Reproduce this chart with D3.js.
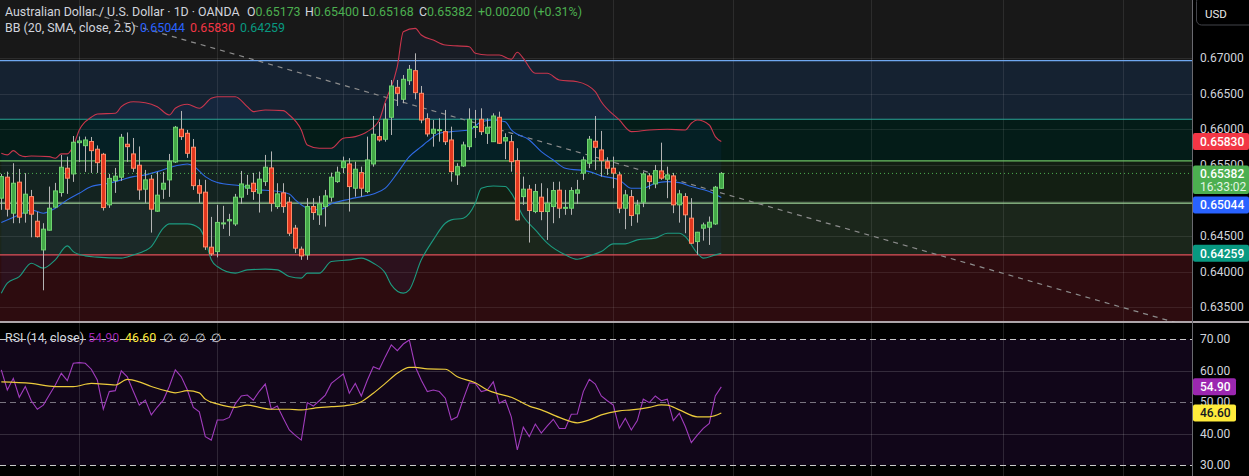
<!DOCTYPE html>
<html><head><meta charset="utf-8">
<script src="https://cdn.jsdelivr.net/npm/d3@7"></script>
<style>html,body{margin:0;padding:0;background:#000;overflow:hidden}</style>
</head><body><svg id="c" width="1249" height="476"></svg>
<script>
// ---------------- DATA ----------------
const openP = [
0.65034,0.65329,0.64823,0.65259,0.64823,0.65056,0.64710,0.64307,0.64584,0.64908,
0.65113,0.65455,0.65375,0.65814,0.65772,0.65831,0.65722,0.65651,0.64940,0.65281,
0.65329,0.65792,0.65656,0.65497,0.65160,0.65301,0.64851,0.65160,0.65291,0.65543,
0.66003,0.65946,0.65750,0.65210,0.65118,0.64345,0.64283,0.64672,0.64715,0.64672,
0.65048,0.65174,0.65244,0.65104,0.65267,0.65459,0.64916,0.65108,0.64978,0.64612,
0.64317,0.64237,0.64916,0.64800,0.64916,0.65048,0.65267,0.65463,0.65515,0.65174,
0.65393,0.65127,0.65515,0.65899,0.65862,0.66171,0.66592,0.66424,0.66685,0.66826,
0.66508,0.66151,0.65946,0.65989,0.65969,0.65852,0.65361,0.65487,0.65758,0.66028,
0.66143,0.65946,0.65828,0.66171,0.65838,0.65828,0.65561,0.65056,0.65160,0.64846,
0.65048,0.64846,0.64916,0.65146,0.64891,0.64893,0.65104,0.65385,0.65525,0.65834,
0.65712,0.65547,0.65455,0.65361,0.64893,0.65056,0.64814,0.64978,0.65347,0.65234,
0.65417,0.65301,0.65347,0.64940,0.65056,0.64753,0.64424,0.64612,0.64626,0.64672,
0.65173];
const highP = [
0.65375,0.65407,0.65525,0.65445,0.65385,0.65150,0.64842,0.64682,0.65197,0.65249,
0.65642,0.65618,0.65908,0.65901,0.65899,0.65894,0.65775,0.65670,0.65375,0.65459,
0.65937,0.65958,0.65880,0.65761,0.65431,0.65361,0.65403,0.65403,0.65656,0.66049,
0.66260,0.65993,0.65866,0.65298,0.65291,0.64771,0.64940,0.64926,0.64814,0.65094,
0.65417,0.65361,0.65389,0.65407,0.65642,0.65691,0.65244,0.65244,0.65052,0.64658,
0.64354,0.65034,0.65034,0.65066,0.65150,0.65393,0.65477,0.65618,0.65596,0.65547,
0.65477,0.65899,0.66189,0.66105,0.66368,0.66695,0.66695,0.66765,0.66906,0.67070,
0.66611,0.66227,0.66133,0.66157,0.66274,0.66039,0.65525,0.65828,0.66297,0.66274,
0.66297,0.66157,0.66227,0.66250,0.65946,0.65922,0.65736,0.65337,0.65220,0.65234,
0.65244,0.65174,0.65263,0.65267,0.65150,0.65188,0.65291,0.65618,0.65908,0.66189,
0.65979,0.65610,0.65618,0.65407,0.65150,0.65150,0.65010,0.65407,0.65385,0.65501,
0.65814,0.65477,0.65389,0.65150,0.65104,0.65034,0.64560,0.64690,0.64776,0.65206,
0.65400];
const lowP = [
0.64870,0.64776,0.64682,0.64682,0.64690,0.64484,0.64481,0.63739,0.64579,0.64898,
0.65056,0.65094,0.65263,0.65543,0.65403,0.65389,0.65389,0.64860,0.64898,0.65108,
0.65277,0.65543,0.65403,0.65010,0.64968,0.64550,0.64842,0.65024,0.65052,0.65529,
0.65852,0.65600,0.65150,0.64968,0.64307,0.64223,0.64202,0.64602,0.64503,0.64644,
0.64954,0.65080,0.65010,0.64832,0.65206,0.64846,0.64884,0.64828,0.64503,0.64265,
0.64167,0.64167,0.64729,0.64658,0.64634,0.64986,0.65249,0.65385,0.64846,0.65056,
0.65056,0.65104,0.65477,0.65828,0.65828,0.65922,0.66330,0.66368,0.66625,0.66424,
0.66087,0.65899,0.65758,0.65828,0.65782,0.65267,0.65220,0.65473,0.65712,0.65880,
0.65922,0.65796,0.65824,0.65796,0.65582,0.65407,0.64719,0.64940,0.64410,0.64823,
0.64724,0.64447,0.64682,0.64753,0.64800,0.64800,0.64954,0.65291,0.65455,0.65431,
0.65337,0.65361,0.65174,0.64823,0.64598,0.64644,0.64690,0.64908,0.65160,0.65174,
0.65291,0.65034,0.64823,0.64690,0.64541,0.64391,0.64237,0.64437,0.64377,0.64658,
0.65168];
const closeP = [
0.65337,0.64879,0.65244,0.64767,0.65090,0.64809,0.64493,0.64598,0.64893,0.65136,
0.65469,0.65315,0.65820,0.65838,0.65852,0.65702,0.65533,0.64902,0.65312,0.65343,
0.65890,0.65758,0.65455,0.65150,0.65291,0.64879,0.65076,0.65244,0.65553,0.66031,
0.65899,0.65665,0.65210,0.65104,0.64349,0.64251,0.64693,0.64686,0.64733,0.65048,
0.65234,0.65216,0.65127,0.65301,0.65469,0.64963,0.65094,0.64916,0.64541,0.64331,
0.64223,0.64916,0.64832,0.64954,0.65066,0.65329,0.65399,0.65547,0.65197,0.65441,
0.65174,0.65571,0.65932,0.65852,0.66143,0.66611,0.66508,0.66705,0.66845,0.66517,
0.66133,0.65937,0.66003,0.65997,0.65828,0.65407,0.65477,0.65782,0.66143,0.66042,
0.65969,0.66031,0.66189,0.65806,0.65885,0.65547,0.64729,0.65160,0.64860,0.65127,
0.64846,0.64963,0.65141,0.64893,0.64905,0.65141,0.65150,0.65571,0.65862,0.65750,
0.65561,0.65455,0.65385,0.64893,0.65080,0.64790,0.64940,0.65375,0.65267,0.65421,
0.65315,0.65361,0.64940,0.65094,0.64800,0.64401,0.64555,0.64658,0.64696,0.65188,
0.65382];

// Bollinger Bands: [bar index, price]
const bbUpper = [[0,0.65665],[1,0.65642],[2,0.65702],[3,0.65642],[4,0.65618],[5,0.65627],[8,0.65618],[9,0.65596],[10,0.65656],[11,0.65656],[12,0.65768],[13,0.65993],[15,0.66171],[16,0.66217],[19,0.66227],[20,0.66320],[22,0.66390],[24,0.66376],[26,0.66320],[28,0.66203],[29,0.66297],[31,0.66354],[33,0.66297],[35,0.66438],[36,0.66460],[39,0.66460],[41,0.66320],[42,0.66250],[44,0.66274],[47,0.66264],[48,0.66203],[50,0.65993],[51,0.65782],[53,0.65736],[55,0.65736],[57,0.65876],[59,0.65899],[61,0.65969],[63,0.66133],[64,0.66390],[66,0.66882],[67,0.67373],[69,0.67421],[70,0.67327],[72,0.67257],[74,0.67187],[78,0.67163],[79,0.67070],[81,0.67046],[83,0.67046],[85,0.66986],[86,0.67084],[87,0.67000],[89,0.66789],[91,0.66789],[93,0.66695],[96,0.66671],[99,0.66531],[100,0.66390],[103,0.66133],[105,0.65969],[108,0.65993],[111,0.66003],[114,0.65993],[115,0.66087],[116,0.66133],[118,0.66063],[119,0.65899],[120,0.65830]];
const bbBasis = [[0,0.64693],[3,0.64800],[5,0.64870],[7,0.64823],[9,0.64893],[11,0.65010],[13,0.65104],[15,0.65197],[18,0.65244],[20,0.65291],[22,0.65337],[24,0.65361],[26,0.65407],[29,0.65487],[31,0.65515],[32,0.65487],[34,0.65337],[36,0.65253],[40,0.65206],[43,0.65150],[45,0.65141],[48,0.65094],[49,0.65010],[51,0.64893],[53,0.64870],[55,0.64954],[58,0.65020],[60,0.65056],[62,0.65094],[64,0.65174],[66,0.65385],[68,0.65618],[70,0.65758],[71,0.65828],[73,0.65946],[75,0.65969],[78,0.65993],[80,0.66109],[82,0.66133],[84,0.66109],[85,0.65993],[88,0.65852],[90,0.65688],[92,0.65571],[94,0.65455],[98,0.65407],[100,0.65347],[103,0.65291],[105,0.65174],[107,0.65174],[109,0.65244],[111,0.65267],[113,0.65253],[115,0.65197],[118,0.65127],[120,0.65044]];
const bbLower = [[0,0.63699],[1,0.63840],[3,0.63932],[5,0.64120],[7,0.64050],[9,0.64167],[11,0.64363],[12,0.64283],[14,0.64223],[16,0.64205],[20,0.64191],[22,0.64237],[24,0.64297],[25,0.64354],[27,0.64612],[28,0.64672],[31,0.64672],[33,0.64612],[34,0.64448],[35,0.64167],[36,0.64073],[39,0.63980],[41,0.64026],[44,0.64036],[46,0.64026],[48,0.63932],[50,0.63910],[51,0.63980],[53,0.63980],[55,0.64143],[58,0.64167],[60,0.64191],[62,0.64120],[64,0.63980],[65,0.63816],[67,0.63699],[68,0.63746],[70,0.64167],[72,0.64448],[74,0.64682],[75,0.64729],[77,0.64753],[79,0.64963],[80,0.65174],[82,0.65206],[84,0.65197],[85,0.65104],[87,0.64776],[89,0.64588],[91,0.64401],[94,0.64237],[96,0.64175],[98,0.64223],[100,0.64283],[102,0.64391],[104,0.64391],[106,0.64448],[109,0.64472],[111,0.64541],[113,0.64541],[114,0.64494],[116,0.64261],[117,0.64191],[119,0.64237],[120,0.64259]];

// RSI (14) per bar and its moving average [bar index, value]
const rsi = [
60.3,53.9,57.6,51.6,55.0,50.5,47.8,49.1,52.3,55.5,
59.2,56.9,62.4,62.6,62.4,60.5,57.1,47.8,53.4,53.7,
60.0,58.1,53.5,49.1,50.7,46.0,48.5,50.7,55.0,60.3,
58.1,54.0,48.4,47.0,39.1,38.0,44.4,44.4,45.2,49.5,
52.0,52.3,50.7,53.5,55.8,47.8,48.8,44.9,41.2,39.5,
38.0,49.9,48.8,50.5,52.3,56.0,57.5,59.0,52.9,56.0,
52.0,57.0,61.3,60.5,64.5,68.2,66.4,68.5,69.8,61.3,
57.0,53.4,53.9,53.4,51.3,44.4,45.4,51.0,56.2,56.0,
53.4,53.9,56.5,49.7,50.7,45.4,34.9,42.1,39.1,43.1,
40.2,42.5,44.6,41.7,41.7,46.2,46.3,53.4,57.3,55.8,
52.0,50.5,49.1,41.7,44.9,41.2,44.2,51.0,49.9,52.0,
50.5,51.0,44.2,46.5,42.3,37.2,39.6,41.7,43.3,52.0,
54.9];
const rsiMA = [[0,56.5],[5,56],[9,55],[12,55],[15,56],[19,55.5],[21,57.3],[23,56.5],[25,55],[28,53.4],[29,53],[31,53.7],[33,53],[34,51],[36,49.5],[39,48.4],[41,49.1],[43,48.4],[45,47.8],[48,47.8],[50,47.6],[52,48.1],[55,48.6],[58,49.1],[60,50.2],[62,52.9],[64,56],[66,59.2],[68,61.1],[69,61.1],[71,60.6],[74,60.5],[76,58.1],[79,56.2],[81,53.9],[83,52.6],[85,51.6],[88,48.8],[90,47.6],[93,45.2],[96,43.5],[98,44.4],[100,46],[103,47.3],[105,47.6],[108,48.4],[110,49.2],[111,49.1],[113,47.6],[116,45.4],[118,45.4],[120,46.6]];

// Horizontal drawn levels and the trend line
const levelPrices = [0.66966, 0.66143, 0.65558, 0.64963, 0.64237];
const trendIdx = [14, 205];
const trendPrice = [0.67656, 0.63062];

// Axis ticks / grid
const priceTicks = [0.635, 0.640, 0.645, 0.650, 0.655, 0.660, 0.665, 0.670];
const priceTickLabels = [0.635, 0.640, 0.645, 0.655, 0.660, 0.665, 0.670];
const rsiTicks = [30, 40, 50, 60, 70];
const monthStartIdx = [13, 36, 57, 79, 102, 122, 145, 167, 187];

// Header values
const ohlcLabels = ["O", "H", "L", "C"];
const ohlcValues = ["0.65173", "0.65400", "0.65168", "0.65382"];
const changeText = "+0.00200 (+0.31%)";
const bbValues = ["0.65044", "0.65830", "0.64259"];
const rsiValues = ["54.90", "46.60"];
const timerText = "16:33:02";

// ---------------- DRAW ----------------
const FONT = 'Roboto, "Liberation Sans", Arial, sans-serif';
const svg = d3.select('#c');
const paneW = 1192, mainH = 321.5, rsiTop = 322.5;

const x = d3.scaleLinear().domain([0, 120]).range([1.3, 721.3]);
const y = d3.scaleLinear().domain([0.635, 0.670]).range([307.3, 58.3]);
const yr = d3.scaleLinear().domain([30, 70]).range([465.3, 339.3]);

svg.append('rect').attr('width', 1249).attr('height', 476).attr('fill', '#000');

const defs = svg.append('defs');
defs.append('clipPath').attr('id', 'clipMain').append('rect').attr('x', 0).attr('y', 0).attr('width', paneW).attr('height', mainH);
defs.append('clipPath').attr('id', 'clipRsi').append('rect').attr('x', 0).attr('y', rsiTop).attr('width', paneW).attr('height', 476 - rsiTop);

const main = svg.append('g').attr('clip-path', 'url(#clipMain)');
main.append('rect').attr('width', paneW).attr('height', mainH).attr('fill', '#181818');

// zones between levels
const zoneColors = ['#152231', '#041c18', '#131f13', '#1b261b', '#2d0c0f'];
levelPrices.forEach((p, k) => {
  const y0 = y(p);
  const y1 = k < levelPrices.length - 1 ? y(levelPrices[k + 1]) : mainH;
  main.append('rect').attr('x', 0).attr('y', y0).attr('width', paneW).attr('height', y1 - y0).attr('fill', zoneColors[k]);
});

// grid
const gridCol = 'rgba(255,255,255,0.09)';
main.selectAll('.hg').data(priceTicks).enter().append('line')
  .attr('x1', 0).attr('x2', paneW).attr('y1', d => Math.round(y(d)) + 0.5).attr('y2', d => Math.round(y(d)) + 0.5)
  .attr('stroke', gridCol);
main.selectAll('.vg').data(monthStartIdx).enter().append('line')
  .attr('x1', d => Math.round(x(d)) + 0.5).attr('x2', d => Math.round(x(d)) + 0.5).attr('y1', 0).attr('y2', mainH)
  .attr('stroke', gridCol);

// BB fill
const lin = d3.line().x(d => x(d[0])).y(d => y(d[1]));
const fillPath = lin(bbUpper) + 'L' + lin(bbLower.slice().reverse()).slice(1) + 'Z';
main.append('path').attr('d', fillPath).attr('fill', 'rgba(41,98,255,0.06)');

// levels
const levelColors = ['#6fa8f0', '#2aa596', '#6cc063', '#9fd39a', '#e0505a'];
levelPrices.forEach((p, k) => {
  main.append('line').attr('x1', 0).attr('x2', paneW).attr('y1', y(p)).attr('y2', y(p))
    .attr('stroke', levelColors[k]).attr('stroke-width', 1.2);
});

// trend line
main.append('line')
  .attr('x1', x(trendIdx[0])).attr('y1', y(trendPrice[0]))
  .attr('x2', x(trendIdx[1])).attr('y2', y(trendPrice[1]))
  .attr('stroke', '#8c8c8c').attr('stroke-width', 1.2).attr('stroke-dasharray', '5,5');

// BB lines
const curve = d3.line().x(d => x(d[0])).y(d => y(d[1])).curve(d3.curveMonotoneX);
main.append('path').attr('d', curve(bbUpper)).attr('fill', 'none').attr('stroke', '#c9364d').attr('stroke-width', 1.1);
main.append('path').attr('d', curve(bbLower)).attr('fill', 'none').attr('stroke', '#1c9a80').attr('stroke-width', 1.1);
main.append('path').attr('d', curve(bbBasis)).attr('fill', 'none').attr('stroke', '#2f6be6').attr('stroke-width', 1.1);

// candles
const idx = d3.range(openP.length);
const cg = main.append('g');
cg.selectAll('.wick').data(idx).enter().append('line')
  .attr('x1', i => Math.round(x(i)) + 0.5).attr('x2', i => Math.round(x(i)) + 0.5)
  .attr('y1', i => y(highP[i])).attr('y2', i => y(lowP[i]))
  .attr('stroke', '#b4b4b4').attr('stroke-width', 1);
cg.selectAll('.body').data(idx).enter().append('rect')
  .attr('x', i => Math.round(x(i)) - 1.5)
  .attr('width', 4)
  .attr('y', i => y(Math.max(openP[i], closeP[i])))
  .attr('height', i => Math.max(1, Math.abs(y(openP[i]) - y(closeP[i]))))
  .attr('fill', i => closeP[i] >= openP[i] ? '#43a848' : '#e2371f')
  .attr('stroke', i => closeP[i] >= openP[i] ? '#6fd36f' : '#ff8a66')
  .attr('stroke-width', 1);

// current price dotted line
const lastClose = closeP[closeP.length - 1];
main.append('line').attr('x1', 0).attr('x2', paneW).attr('y1', y(lastClose)).attr('y2', y(lastClose))
  .attr('stroke', '#4caf50').attr('stroke-width', 1).attr('stroke-dasharray', '1,3');

// ---------------- RSI pane ----------------
const rp = svg.append('g').attr('clip-path', 'url(#clipRsi)');
rp.append('rect').attr('x', 0).attr('y', rsiTop).attr('width', paneW).attr('height', 476 - rsiTop).attr('fill', '#000');
rp.append('rect').attr('x', 0).attr('y', yr(70)).attr('width', paneW).attr('height', yr(30) - yr(70)).attr('fill', '#110619');
rp.selectAll('.vg').data(monthStartIdx).enter().append('line')
  .attr('x1', d => Math.round(x(d)) + 0.5).attr('x2', d => Math.round(x(d)) + 0.5).attr('y1', rsiTop).attr('y2', 476)
  .attr('stroke', 'rgba(255,255,255,0.13)');
[60, 40].forEach(v => rp.append('line').attr('x1', 0).attr('x2', paneW).attr('y1', Math.round(yr(v)) + 0.5).attr('y2', Math.round(yr(v)) + 0.5).attr('stroke', 'rgba(255,255,255,0.15)'));
[[70, '#c8c8c8'], [50, '#7a7480'], [30, '#c8c8c8']].forEach(([v, c]) => rp.append('line')
  .attr('x1', 0).attr('x2', paneW).attr('y1', Math.round(yr(v)) + 0.5).attr('y2', Math.round(yr(v)) + 0.5)
  .attr('stroke', c).attr('stroke-dasharray', '6,4'));

const rline = d3.line().x((d, i) => x(i)).y(d => yr(d));
rp.append('path').attr('d', rline(rsi)).attr('fill', 'none').attr('stroke', '#a03cbc').attr('stroke-width', 1.1);
const mline = d3.line().x(d => x(d[0])).y(d => yr(d[1])).curve(d3.curveMonotoneX);
rp.append('path').attr('d', mline(rsiMA)).attr('fill', 'none').attr('stroke', '#eccb3c').attr('stroke-width', 1.2);

// separators
svg.append('line').attr('x1', 0).attr('x2', 1249).attr('y1', 322).attr('y2', 322).attr('stroke', '#e6dde2').attr('stroke-width', 1.3);
svg.append('line').attr('x1', 1192.5).attr('x2', 1192.5).attr('y1', 0).attr('y2', 476).attr('stroke', '#6a6a70');

// ---------------- Axis labels ----------------
const axisG = svg.append('g').attr('font-family', FONT).attr('font-size', 12).attr('fill', '#d1d4dc');
axisG.selectAll('.pt').data(priceTickLabels).enter().append('text')
  .attr('x', 1200).attr('y', d => y(d)).attr('dy', '0.32em').text(d => d.toFixed(5));
axisG.selectAll('.rt').data(rsiTicks).enter().append('text')
  .attr('x', 1200).attr('y', d => yr(d)).attr('dy', '0.32em').text(d => d.toFixed(2));

// price badges with simple collision handling
const badges = [
  { v: +bbValues[1], h: 17, fill: '#f23645', lines: [[bbValues[1], '#fff']] },
  { v: lastClose, h: 28.5, fill: '#4caf50', lines: [[ohlcValues[3], '#fff'], [timerText, '#e3f5e3']], first: 8 },
  { v: +bbValues[0], h: 17, fill: '#2962ff', lines: [[bbValues[0], '#fff']] },
  { v: +bbValues[2], h: 17, fill: '#089981', lines: [[bbValues[2], '#fff']] }
];
let prevBottom = -1e9;
badges.forEach(b => {
  const half = b.first || b.h / 2;
  let top = y(b.v) - half;
  if (top < prevBottom + 2.5) top = prevBottom + 2.5;
  prevBottom = top + b.h;
  svg.append('rect').attr('x', 1193).attr('y', top).attr('width', 56).attr('height', b.h).attr('rx', 2).attr('fill', b.fill);
  b.lines.forEach((l, k) => svg.append('text').attr('x', 1200).attr('y', top + 8.5 + k * 13).attr('dy', '0.35em')
    .attr('font-family', FONT).attr('font-size', 12).attr('font-weight', k === 0 ? 500 : 400).attr('fill', l[1]).text(l[0]));
});
const rBadges = [
  { v: +rsiValues[0], fill: '#9c27b0', col: '#fff' },
  { v: +rsiValues[1], fill: '#ffeb3b', col: '#131722' }
];
rBadges.forEach(b => {
  const top = yr(b.v) - 8.5;
  svg.append('rect').attr('x', 1193).attr('y', top).attr('width', 43).attr('height', 17).attr('rx', 2).attr('fill', b.fill);
  svg.append('text').attr('x', 1200).attr('y', top + 8.5).attr('dy', '0.35em').attr('font-family', FONT)
    .attr('font-size', 12).attr('font-weight', 500).attr('fill', b.col).text(b.v.toFixed(2));
});

// USD button
svg.append('rect').attr('x', 1196.5).attr('y', -3.5).attr('width', 60).attr('height', 28.5).attr('rx', 5)
  .attr('fill', '#000').attr('stroke', '#43444a');
svg.append('text').attr('x', 1205).attr('y', 17.5).attr('font-family', FONT).attr('font-size', 11.5).attr('fill', '#e8e8e8').text('USD');

// ---------------- Header texts ----------------
const hdr = svg.append('g').attr('font-family', FONT).attr('font-size', 12.4);
hdr.append('text').attr('x', 5).attr('y', 15.5).attr('fill', '#d1d4dc').text('Australian Dollar / U.S. Dollar · 1D · OANDA');
const ohlcX = [247, 305, 362, 419];
ohlcLabels.forEach((l, k) => {
  const t = hdr.append('text').attr('x', ohlcX[k]).attr('y', 15.5);
  t.append('tspan').attr('fill', '#d1d4dc').text(l);
  t.append('tspan').attr('fill', '#4caf50').text(ohlcValues[k]);
});
hdr.append('text').attr('x', 478).attr('y', 15.5).attr('fill', '#4caf50').text(changeText);

hdr.append('text').attr('x', 5).attr('y', 31.5).attr('fill', '#d1d4dc').text('BB (20, SMA, close, 2.5)');
const bbCols = ['#2962ff', '#f23645', '#089981'];
const bbX = [140, 190, 240];
bbValues.forEach((v, k) => hdr.append('text').attr('x', bbX[k]).attr('y', 31.5).attr('fill', bbCols[k]).text(v));

hdr.append('text').attr('x', 5).attr('y', 342).attr('fill', '#d1d4dc').text('RSI (14, close)');
hdr.append('text').attr('x', 88).attr('y', 342).attr('fill', '#9c27b0').text(rsiValues[0]);
hdr.append('text').attr('x', 125).attr('y', 342).attr('fill', '#ffeb3b').text(rsiValues[1]);
[163, 179, 195, 211].forEach(px => hdr.append('text').attr('x', px).attr('y', 342).attr('fill', '#d1d4dc').text('∅'));
</script></body></html>
